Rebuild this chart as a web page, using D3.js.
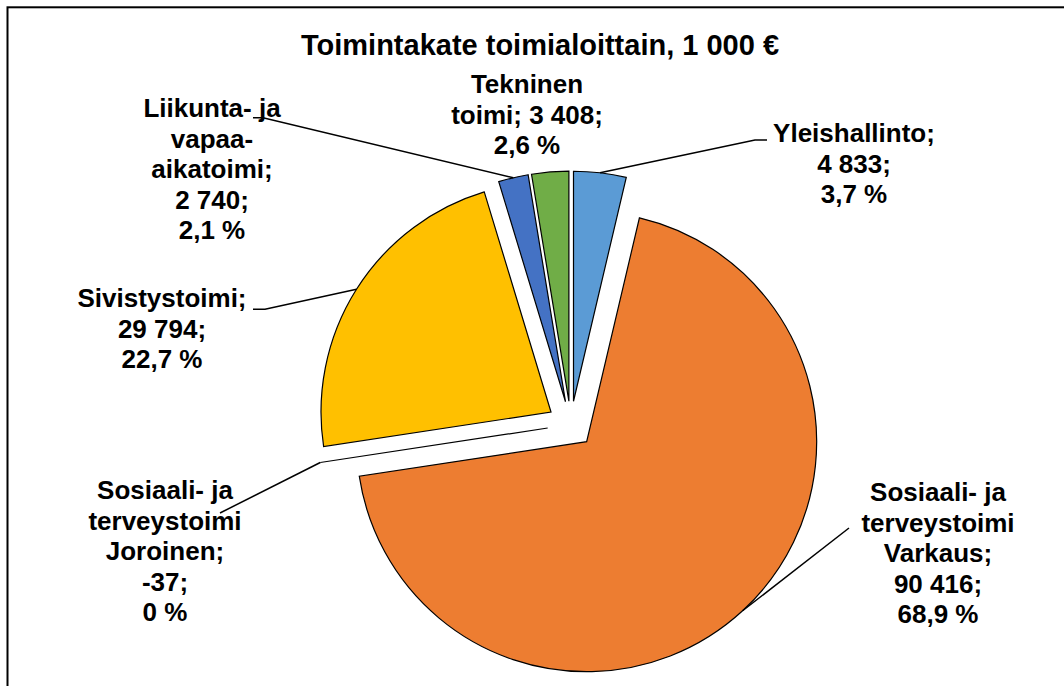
<!DOCTYPE html>
<html>
<head>
<meta charset="utf-8">
<script src="https://cdn.jsdelivr.net/npm/d3@7"></script>
<style>
  body { margin: 0; background: #ffffff; }
  svg { display: block; font-family: Arial, "Liberation Sans", sans-serif; }
</style>
</head>
<body>
<svg id="chart" width="1064" height="686"></svg>
<script>
// ## DATA ##
const title = "Toimintakate toimialoittain, 1 000 €";
const categories = [
  "Yleishallinto",
  "Sosiaali- ja terveystoimi Varkaus",
  "Sosiaali- ja terveystoimi Joroinen",
  "Sivistystoimi",
  "Liikunta- ja vapaa-aikatoimi",
  "Tekninen toimi"
];
const values = [4833, 90416, -37, 29794, 2740, 3408];
const colors = ["#5B9BD5", "#ED7D31", "#A5A5A5", "#FFC000", "#4472C4", "#70AD47"];
// how many words go on each label line
const lineBreaks = [[1, 1, 1], [2, 1, 1, 1, 1], [2, 1, 1, 1, 1], [1, 1, 1], [2, 1, 1, 1, 1], [1, 2, 1]];

// ## LAYOUT ##
const cx = 570.8, cy = 424.5, radius = 230, explode = 23.4;
const fontSize = 26, lineHeight = 30.5;
// label centre x and first baseline
const labelPos = [[854, 142], [938, 501], [165, 499], [162, 307], [212, 117], [527, 93]];
// leader line points on the label side (the slice end is added from the arc)
const leaderStarts = [
  [[767, 140], [755, 140]],
  [[849, 528]],
  [[220, 513]],
  [[253, 309.3], [265, 309.3]],
  [[253, 117.7], [263, 117.7]],
  null
];

const fi = d3.formatLocale({decimal: ",", thousands: " ", grouping: [3], currency: ["", " €"], minus: "-"});
const fmtNum = fi.format(",");
const total = d3.sum(values, v => Math.max(0, v));
function fmtPct(v) {
  const p = Math.max(0, v) / total * 100;
  return p === 0 ? "0 %" : fi.format(".1f")(p) + " %";
}

const svg = d3.select("#chart");

// frame (only the top and left edges fall inside the picture)
svg.append("rect")
  .attr("x", 7.5).attr("y", 7.3)
  .attr("width", 1200).attr("height", 800)
  .attr("fill", "none").attr("stroke", "#000").attr("stroke-width", 2);

svg.append("text")
  .attr("x", 540).attr("y", 55)
  .attr("text-anchor", "middle")
  .attr("font-size", 29).attr("font-weight", "bold")
  .text(title);

const data = categories.map((name, i) => ({name, value: values[i], color: colors[i], i}));

const pie = d3.pie()
  .sort(null)
  .value(d => Math.max(0, d.value));

const arc = d3.arc().innerRadius(0).outerRadius(radius);
const arcs = pie(data);

function offset(d) {
  const mid = (d.startAngle + d.endAngle) / 2;
  return [cx + explode * Math.sin(mid), cy - explode * Math.cos(mid)];
}

svg.append("g")
  .selectAll("path")
  .data(arcs)
  .join("path")
    .attr("transform", d => `translate(${offset(d)})`)
    .attr("d", arc)
    .attr("fill", d => d.data.color)
    .attr("stroke", "#000")
    .attr("stroke-width", 1.2)
    .attr("stroke-linejoin", "miter");

// leader lines
const line = d3.line();
svg.append("g")
  .selectAll("path")
  .data(arcs.filter(d => leaderStarts[d.data.i]))
  .join("path")
    .attr("d", d => {
      const mid = (d.startAngle + d.endAngle) / 2;
      const [ox, oy] = offset(d);
      const end = [ox + radius * Math.sin(mid), oy - radius * Math.cos(mid)];
      return line([...leaderStarts[d.data.i], end]);
    })
    .attr("fill", "none")
    .attr("stroke", "#000")
    .attr("stroke-width", 1.5);

// split a label into word tokens; hyphenated words break after the hyphen
function tokens(d) {
  const out = [];
  d.name.split(" ").forEach((w, wi) => {
    const parts = w.split(/(?<=-)(?=\w)/);
    parts.forEach((p, pi) => out.push({t: p, glue: pi > 0 ? "" : " "}));
  });
  out[out.length - 1].t += ";";
  out.push({t: fmtNum(d.value) + ";", glue: " "});
  out.push({t: fmtPct(d.value), glue: " "});
  return out;
}

function labelLines(d) {
  const toks = tokens(d);
  const lines = [];
  let k = 0;
  lineBreaks[d.i].forEach(n => {
    let s = "";
    for (let j = 0; j < n; j++, k++) s += (j === 0 ? "" : toks[k].glue) + toks[k].t;
    lines.push(s);
  });
  return lines;
}

svg.append("g")
  .attr("font-size", fontSize)
  .attr("font-weight", "bold")
  .attr("text-anchor", "middle")
  .selectAll("text")
  .data(data)
  .join("text")
    .attr("x", d => labelPos[d.i][0])
    .attr("y", d => labelPos[d.i][1])
    .each(function(d) {
      const t = d3.select(this);
      labelLines(d).forEach((s, j) => {
        t.append("tspan")
          .attr("x", labelPos[d.i][0])
          .attr("y", labelPos[d.i][1] + j * lineHeight)
          .text(s);
      });
    });
</script>
</body>
</html>
